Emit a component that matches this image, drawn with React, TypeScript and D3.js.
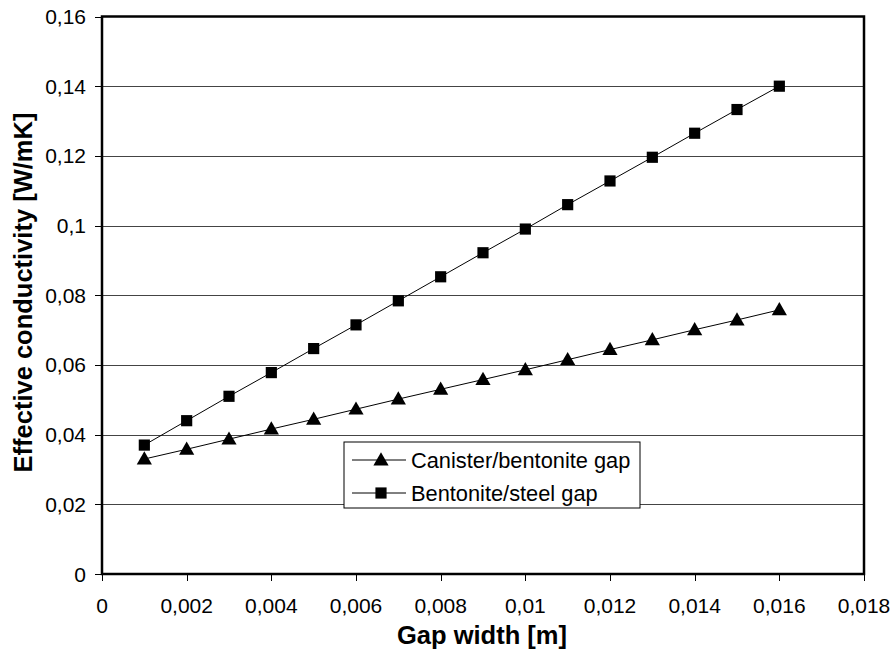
import React from "react";
import * as d3 from "d3";

const gapWidth = [0.001, 0.002, 0.003, 0.004, 0.005, 0.006, 0.007, 0.008, 0.009, 0.01, 0.011, 0.012, 0.013, 0.014, 0.015, 0.016];
const canisterBentonite = [0.033, 0.0358, 0.0387, 0.0416, 0.0444, 0.0473, 0.0502, 0.053, 0.0558, 0.0586, 0.0615, 0.0644, 0.0672, 0.0701, 0.0729, 0.0758];
const bentoniteSteel = [0.037, 0.044, 0.051, 0.0578, 0.0647, 0.0715, 0.0784, 0.0853, 0.0922, 0.099, 0.106, 0.1128, 0.1196, 0.1265, 0.1333, 0.14];
const xTicks = [0, 0.002, 0.004, 0.006, 0.008, 0.01, 0.012, 0.014, 0.016, 0.018];
const yTicks = [0, 0.02, 0.04, 0.06, 0.08, 0.1, 0.12, 0.14, 0.16];
const seriesNames = ["Canister/bentonite gap", "Bentonite/steel gap"];

const fmt = (v: number) => String(+v.toFixed(4)).replace(".", ",");

export default function App() {
  const W = 892, H = 655;
  const L = 102, R = 864, T = 16.5, B = 574;
  const x = d3.scaleLinear().domain([0, 0.018]).range([L, R]);
  const y = d3.scaleLinear().domain([0, 0.16]).range([B, T]);
  const line = d3.line<number>().x((_, i) => x(gapWidth[i])).y((d) => y(d));
  const font = "Liberation Sans, Arial, sans-serif";
  const tri = d3.symbol().type(d3.symbolTriangle).size(100)() as string;
  const sq = d3.symbol().type(d3.symbolSquare).size(125)() as string;

  const legX = 344, legY = 442, legW = 296, legH = 66;
  return (
    <svg width={W} height={H} style={{ position: "absolute", left: 0, top: 0, background: "#fff" }} fontFamily={font}>
      <rect x={0} y={0} width={W} height={H} fill="#fff" />
      {yTicks.slice(1, -1).map((t) => (
        <line key={t} x1={L} x2={R} y1={Math.round(y(t)) + 0.5} y2={Math.round(y(t)) + 0.5} stroke="#444" strokeWidth={1} />
      ))}
      {yTicks.map((t) => (
        <g key={"y" + t}>
          <line x1={L - 7} x2={L} y1={Math.round(y(t)) + 0.5} y2={Math.round(y(t)) + 0.5} stroke="#000" strokeWidth={1} />
          <text x={86} y={y(t)} dy="0.36em" textAnchor="end" fontSize={21}>{fmt(t)}</text>
        </g>
      ))}
      {xTicks.map((t) => (
        <g key={"x" + t}>
          <line x1={Math.round(x(t)) + 0.5} x2={Math.round(x(t)) + 0.5} y1={B} y2={B + 7} stroke="#000" strokeWidth={1} />
          <text x={x(t)} y={B + 39} textAnchor="middle" fontSize={21}>{fmt(t)}</text>
        </g>
      ))}
      <rect x={L} y={T} width={R - L} height={B - T} fill="none" stroke="#000" strokeWidth={2.5} />
      <path d={line(canisterBentonite) as string} fill="none" stroke="#000" strokeWidth={1} />
      <path d={line(bentoniteSteel) as string} fill="none" stroke="#000" strokeWidth={1} />
      {canisterBentonite.map((v, i) => (
        <path key={"t" + i} d={tri} transform={`translate(${x(gapWidth[i])},${y(v) + 1})`} fill="#000" />
      ))}
      {bentoniteSteel.map((v, i) => (
        <path key={"s" + i} d={sq} transform={`translate(${x(gapWidth[i])},${y(v)})`} fill="#000" />
      ))}
      <rect x={legX} y={legY} width={legW} height={legH} fill="#fff" stroke="#000" strokeWidth={1} />
      {seriesNames.map((n, i) => {
        const cy = legY + 18 + i * 33;
        return (
          <g key={n}>
            <line x1={352} x2={406} y1={cy} y2={cy} stroke="#000" strokeWidth={1} />
            <path d={i === 0 ? tri : sq} transform={`translate(381,${cy + (i === 0 ? 1 : 0)})`} fill="#000" />
            <text x={411} y={cy} dy="0.36em" fontSize={21.8}>{n}</text>
          </g>
        );
      })}
      <text x={482} y={644} textAnchor="middle" fontSize={25.5} fontWeight="bold">Gap width [m]</text>
      <text transform={`translate(32,${292.5}) rotate(-90)`} textAnchor="middle" fontSize={25.5} fontWeight="bold">Effective conductivity [W/mK]</text>
    </svg>
  );
}
